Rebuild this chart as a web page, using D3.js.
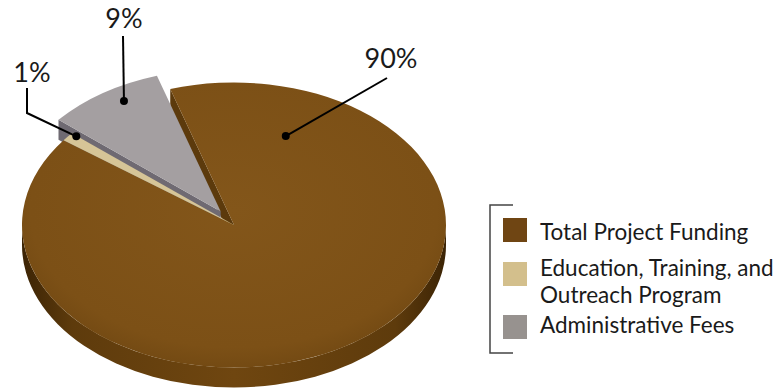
<!DOCTYPE html>
<html>
<head>
<meta charset="utf-8">
<script src="https://cdn.jsdelivr.net/npm/d3@7"></script>
<style>
  body { margin: 0; background: #fff; }
  text { font-family: Lato, "Open Sans", sans-serif; }
</style>
</head>
<body>
<div id="chart"></div>
<script>
// Data
const categories = ["Total Project Funding", "Education, Training, and Outreach Program", "Administrative Fees"];
const shares = [90, 1, 9];
const pctLabels = ["90%", "1%", "9%"];
const legendLines = [["Total Project Funding"], ["Education, Training, and", "Outreach Program"], ["Administrative Fees"]];
const topColors = ["#7d5117", "#d6c597", "#a49fa1"];
const sideColors = ["#5c3a0c", "#bba676", "#6f6a72"];
const swatchColors = ["#6f4513", "#d3bf8c", "#97928f"];
const explode = [0, 0, 24];

let width = 780, height = 389;
let cx = 234, cy = 225, rx = 212, ry = 142.5, depth = 20;
let tilt = ry / rx;
const rad = Math.PI / 180;
let start = -17.5 * rad;

let svg = d3.select("#chart").append("svg")
    .attr("width", width)
    .attr("height", height);

let defs = svg.append("defs");
let wallGrad = defs.append("linearGradient").attr("id", "wall")
    .attr("gradientUnits", "userSpaceOnUse")
    .attr("x1", cx - rx).attr("x2", cx + rx).attr("y1", 0).attr("y2", 0);
[[0, "#3c2405"], [0.12, "#5e3b0c"], [0.5, "#6f4610"], [0.88, "#5e3b0c"], [1, "#3c2405"]]
    .forEach(s => wallGrad.append("stop").attr("offset", s[0]).attr("stop-color", s[1]));

let topGrad = defs.append("radialGradient").attr("id", "topBrown")
    .attr("cx", "50%").attr("cy", "45%").attr("r", "60%");
[[0, "#83561a"], [0.8, "#7c5016"], [1, "#6e4611"]]
    .forEach(s => topGrad.append("stop").attr("offset", s[0]).attr("stop-color", s[1]));

let pie = d3.pie().sort(null).value(d => d).startAngle(start).endAngle(start + 2 * Math.PI);
let arcs = pie(shares).map((d, i) => {
    let mid = (d.startAngle + d.endAngle) / 2;
    d.ox = Math.sin(mid) * explode[i];
    d.oy = -Math.cos(mid) * explode[i] * tilt;
    d.i = i;
    return d;
});

let topArc = d3.arc().innerRadius(0).outerRadius(rx);
let pt = (a, ox, oy) => [cx + ox + rx * Math.sin(a), cy + oy - ry * Math.cos(a)];

function radialWall(d, a) {
    let c = [cx + d.ox, cy + d.oy];
    let p = pt(a, d.ox, d.oy);
    return "M" + c + "L" + p + "L" + [p[0], p[1] + depth] + "L" + [c[0], c[1] + depth] + "Z";
}

function outerWall(d) {
    let a0 = Math.max(d.startAngle, Math.PI / 2), a1 = Math.min(d.endAngle, 3 * Math.PI / 2);
    if (a1 <= a0) return null;
    let p0 = pt(a0, d.ox, d.oy), p1 = pt(a1, d.ox, d.oy);
    let large = (a1 - a0) > Math.PI ? 1 : 0;
    return "M" + p0 + "A" + rx + "," + ry + " 0 " + large + " 1 " + p1 +
        "L" + [p1[0], p1[1] + depth] +
        "A" + rx + "," + ry + " 0 " + large + " 0 " + [p0[0], p0[1] + depth] + "Z";
}

// visible walls of a slice (faces whose normal points toward the viewer)
function drawWalls(g, d) {
    if (-Math.sin(d.startAngle) > 0) g.append("path").attr("d", radialWall(d, d.startAngle)).attr("fill", sideColors[d.i]);
    if (Math.sin(d.endAngle) > 0) g.append("path").attr("d", radialWall(d, d.endAngle)).attr("fill", sideColors[d.i]);
    let ow = outerWall(d);
    if (ow) g.append("path").attr("d", ow).attr("fill", d.i === 0 ? "url(#wall)" : sideColors[d.i]);
}
function drawTop(g, d) {
    g.append("path")
        .attr("d", topArc(d))
        .attr("transform", "translate(" + (cx + d.ox) + "," + (cy + d.oy) + ") scale(1," + tilt + ")")
        .attr("fill", d.i === 0 ? "url(#topBrown)" : topColors[d.i]);
}

let pieG = svg.append("g");
let back = arcs.filter(d => explode[d.i] > 0);
let front = arcs.filter(d => explode[d.i] === 0);
front.forEach(d => drawWalls(pieG, d));
back.forEach(d => { drawWalls(pieG, d); drawTop(pieG, d); });
front.forEach(d => drawTop(pieG, d));

// Percentage labels with leader lines (anchor = fraction along slice angle, radius fraction)
const labelAnchor = [[0.12, 0.67], [0.95, 0.97], [0.6, 0.9]];
const labelText = [[391, 68], [32, 82], [124, 28]];
const labelBend = [null, [27, 113], null];
const lineStart = [[387, 78], [27, 88], [123, 36]];

arcs.forEach(d => {
    let i = d.i;
    let a = d.startAngle + (d.endAngle - d.startAngle) * labelAnchor[i][0];
    let r = labelAnchor[i][1];
    let dot = [cx + d.ox + rx * r * Math.sin(a), cy + d.oy - ry * r * Math.cos(a)];
    let pts = [lineStart[i]];
    if (labelBend[i]) pts.push(labelBend[i]);
    pts.push(dot);
    svg.append("path")
        .attr("d", d3.line()(pts))
        .attr("fill", "none")
        .attr("stroke", "#000")
        .attr("stroke-width", 2);
    svg.append("circle").attr("cx", dot[0]).attr("cy", dot[1]).attr("r", 4).attr("fill", "#000");
    svg.append("text")
        .attr("x", labelText[i][0])
        .attr("y", labelText[i][1])
        .attr("text-anchor", "middle")
        .style("font-size", "27px")
        .attr("fill", "#1a1a1a")
        .text(pctLabels[i]);
});

// Legend
let legend = svg.append("g").attr("transform", "translate(490,205)");
legend.append("path")
    .attr("d", "M23,0H0V148H23")
    .attr("fill", "none")
    .attr("stroke", "#444")
    .attr("stroke-width", 1.5);
const swatchY = [13, 57, 110];
const textY = [35, 71, 128];
const lineGap = 27;
categories.forEach((c, i) => {
    legend.append("rect")
        .attr("x", 13).attr("y", swatchY[i])
        .attr("width", 24).attr("height", 24)
        .attr("fill", swatchColors[i]);
    legendLines[i].forEach((line, k) => {
        legend.append("text")
            .attr("x", 50)
            .attr("y", textY[i] + k * lineGap)
            .style("font-size", "22.5px")
            .attr("fill", "#1a1a1a")
            .text(line);
    });
});
</script>
</body>
</html>
